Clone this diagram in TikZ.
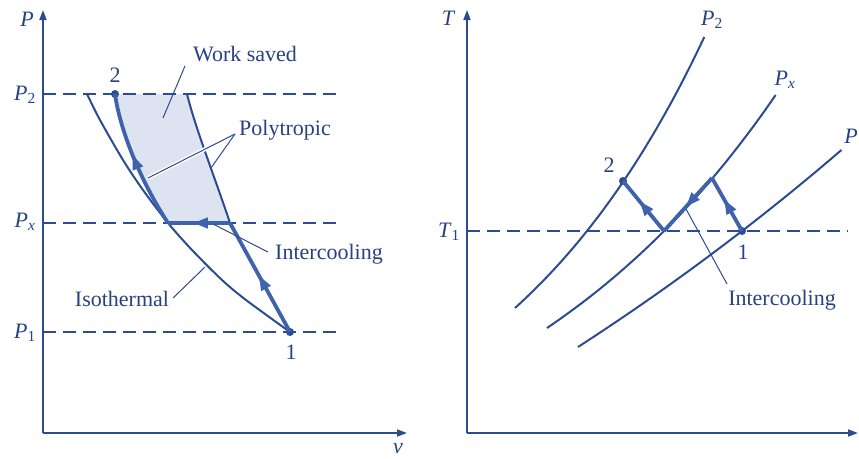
\documentclass[tikz,border=0pt]{standalone}
\usepackage{fontspec}
\setmainfont{Liberation Serif}
\usetikzlibrary{arrows.meta,decorations.markings}
\definecolor{lc}{RGB}{45,75,145}
\definecolor{tc}{RGB}{62,98,172}
\definecolor{fc}{RGB}{221,227,240}
\definecolor{txc}{RGB}{40,65,130}
\begin{document}
\begin{tikzpicture}[x=1pt,y=-1pt,
  ln/.style={draw=lc,line width=2pt},
  thk/.style={draw=tc,line width=3.8pt},
  dsh/.style={draw=lc,line width=1.5pt,dash pattern=on 13pt off 7pt},
  lead/.style={draw=lc,line width=1pt},
  halo/.style={preaction={draw=white,line width=4pt}},
  axis/.style={draw=lc,line width=1.7pt,-{Triangle[length=10pt,width=7pt]}},
  midarrow/.style={postaction={decorate},decoration={markings,
     mark=at position #1 with {\arrow{Triangle[length=15pt,width=10pt]}}}},
  lbl/.style={text=txc,font=\fontsize{22}{26}\selectfont,inner sep=0pt},
  ilbl/.style={text=txc,font=\fontsize{22}{26}\selectfont\itshape,inner sep=0pt},
  dot/.style={circle,fill=lc,inner sep=0pt,minimum size=8pt}]
\useasboundingbox (0,0) rectangle (859,458);

% ---------------- left panel: P-v ----------------
\coordinate (oL) at (43,433);
\coordinate (tL) at (43,10);
\coordinate (vE) at (407,433);
\coordinate (p2a) at (43,94);  \coordinate (p2b) at (338,94);
\coordinate (pxa) at (43,223); \coordinate (pxb) at (338,223);
\coordinate (p1a) at (43,332); \coordinate (p1b) at (338,332);
\coordinate (a) at (230,223);
\coordinate (b) at (168,223);
\coordinate (c) at (187,94);

\fill[fc] (115,94) -- (c) .. controls (196,130) and (214,175) .. (a) -- (b)
   .. controls (140,180) and (120,130) .. (115,94) -- cycle;

\draw[dsh] (p2a) -- (p2b);
\draw[dsh] (pxa) -- (pxb);
\draw[dsh] (p1a) -- (p1b);

\draw[axis] (oL) -- (tL);
\draw[axis] (oL) -- (vE);

% isothermal
\draw[ln] plot[smooth] coordinates {(87,94) (100,120) (123,160) (143,190) (168,223) (192,250) (222,280) (246,300) (290,332)};
% single-stage polytropic continuation
\draw[ln] (a) .. controls (214,175) and (196,130) .. (c);

\node[dot] (n1) at (290,332) {};
\node[dot] (n2) at (115,94) {};

% two-stage path
\draw[thk,midarrow=0.52] (n1.center) -- (a);
\draw[thk,midarrow=0.6] (a) -- (b);
\draw[thk,midarrow=0.55] (b) .. controls (140,180) and (120,130) .. (n2.center);

% labels left
\node[ilbl] (Plab) at (27,19) {P};
\node[lbl] (P2lab) at (25,95) {\textit{P}\textsubscript{2}};
\node[lbl] (Pxlab) at (25,222) {\textit{P}\textsubscript{\textit{x}}};
\node[lbl] (P1lab) at (25,333) {\textit{P}\textsubscript{1}};
\node[ilbl] (vlab) at (398,449) {v};
\node[lbl] (l2) at (115,75) {2};
\node[lbl] (l1) at (291,352) {1};

\node[lbl] (ws) at (245,54) {Work saved};
\node[lbl] (poly) at (285,130) {Polytropic};
\node[lbl] (icL) at (329,254) {Intercooling};
\node[lbl] (iso) at (122,299) {Isothermal};

\coordinate (wsA) at (185,66);  \coordinate (wsB) at (163,118);
\coordinate (poA) at (235,134); \coordinate (poB) at (148,178); \coordinate (poC) at (211,168);
\coordinate (icA) at (268,252); \coordinate (icB) at (213,224);
\coordinate (isA) at (173,298); \coordinate (isB) at (205,267);
\draw[lead] (wsA) -- (wsB);
\draw[lead,halo] (poA) -- (poB);
\draw[lead] (poA) -- (poC);
\draw[lead] (icA) -- (icB);
\draw[lead] (isA) -- (isB);

% ---------------- right panel: T-s ----------------
\coordinate (oR) at (467,433);
\coordinate (tR) at (467,10);
\coordinate (sE) at (858,433);
\coordinate (t1a) at (467,231); \coordinate (t1b) at (848,231);
\coordinate (q1) at (742,231);
\coordinate (qa) at (712,178);
\coordinate (qb) at (664,231);
\coordinate (q2) at (623,181);

\draw[dsh] (t1a) -- (t1b);
\draw[axis] (oR) -- (tR);
\draw[axis] (oR) -- (sE);

\draw[ln] plot[domain=308:37,samples=60] ({515+221*ln(1+(308-\x)/200)},\x);
\draw[ln] plot[domain=328:95,samples=60] ({547+296*ln(1+(328-\x)/200)},\x);
\draw[ln] plot[domain=347:150,samples=60] ({578+928*ln(1+(347-\x)/600)},\x);

\node[dot] (m1) at (q1) {};
\node[dot] (m2) at (q2) {};

\draw[thk,midarrow=0.6] (m1.center) -- (qa);
\draw[thk,midarrow=0.55] (qa) -- (qb);
\draw[thk,midarrow=0.6] (qb) -- (m2.center);

\node[ilbl] (Tlab) at (448,18) {T};
\node[lbl] (T1lab) at (449,232) {\textit{T}\textsubscript{1}};
\node[lbl] (P2r) at (712,20) {\textit{P}\textsubscript{2}};
\node[lbl] (Pxr) at (785,80) {\textit{P}\textsubscript{\textit{x}}};
\node[ilbl] (P1r) at (851,136) {P};
\node[lbl] (r2) at (609,165) {2};
\node[lbl] (r1) at (743,252) {1};
\node[lbl] (icR) at (782,300) {Intercooling};
\coordinate (irA) at (727,284); \coordinate (irB) at (686,209);
\draw[lead] (irA) -- (irB);
\end{tikzpicture}
\end{document}
